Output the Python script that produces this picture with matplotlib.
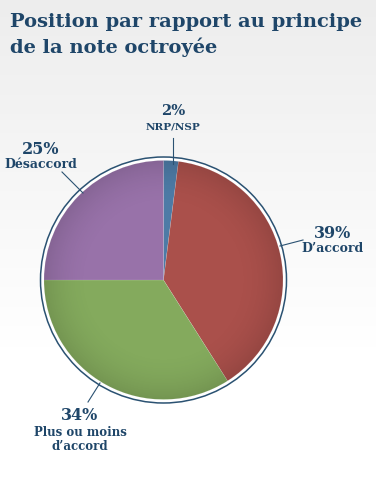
import numpy as np
import matplotlib
matplotlib.use('Agg')
import matplotlib.pyplot as plt
from matplotlib.patches import Circle

####################
# Data
categories = ['NRP/NSP', 'D\u2019accord', 'Plus ou moins\nd\u2019accord', 'D\u00e9saccord']
values     = [2, 39, 34, 25]
colors     = ['#4d7ba6', '#aa504b', '#84aa5d', '#9872a9']
title      = 'Position par rapport au principe\nde la note octroy\u00e9e'

####################
# Layout (pixel coords, y from top)
W, H = 376, 484
cx, cy, r = 163.5, 280, 119.5
navy = '#1f4669'
font = 'DejaVu Serif'

# label centre x, y of the percent, y of the name, percent size, name size
label_pos = [(173, 111, 127, 10.5, 7.5),
             (333, 234, 248, 11.5, 9),
             (80, 416, 439, 11.5, 8.5),
             (41, 149, 165, 11.5, 9)]
leaders = [((172.5, 138), (172.5, 164)),
           ((303, 240), (280, 246)),
           ((88, 402), (100, 383)),
           ((62, 172), (83, 193))]

fig = plt.figure(figsize=(W / 100, H / 100), dpi=100)
ax = fig.add_axes([0, 0, 1, 1])

# background gradient, light grey at the top
grad = np.clip(np.linspace(0, 1, 256) * 1.4, 0, 1).reshape(-1, 1)
bg = 0.93 + 0.07 * grad
ax.imshow(np.dstack([bg, bg, bg]), extent=(0, W, 0, H), aspect='auto', zorder=0,
          origin='upper')

# outer ring
ring = Circle((cx, H - cy), r + 3.5, facecolor='white', edgecolor='#2b5272',
              lw=1.1, zorder=1)
ax.add_patch(ring)

wedges, _ = ax.pie(values, colors=colors, startangle=90, counterclock=False,
                   center=(cx, H - cy), radius=r,
                   wedgeprops=dict(linewidth=0.3, edgecolor=(1, 1, 1, 0.25)))
for w in wedges:
    w.set_zorder(2)

# soft radial shading over the pie
yy, xx = np.mgrid[-1:1:300j, -1:1:300j]
rr = np.sqrt(xx ** 2 + yy ** 2)
shade = np.zeros((300, 300, 4))
shade[..., 3] = np.clip((rr - 0.6) / 0.4, 0, 1) ** 2 * 0.12
im = ax.imshow(shade, extent=(cx - r, cx + r, H - cy - r, H - cy + r), zorder=3)
im.set_clip_path(Circle((cx, H - cy), r, transform=ax.transData))

ax.set_xlim(0, W)
ax.set_ylim(0, H)
ax.set_aspect('auto')
ax.axis('off')

# title
lines = title.split('\n')
ax.text(10, H - 27, lines[0], fontsize=14, fontweight='bold',
        family=font, color=navy, va='baseline', ha='left')
ax.text(10, H - 53, lines[1], fontsize=14, fontweight='bold',
        family=font, color=navy, va='baseline', ha='left')

# labels
for cat, val, (lx, py, ny, ps, ns) in zip(categories, values, label_pos):
    ax.text(lx, H - py, f'{val}%', fontsize=ps, fontweight='bold', family=font,
            color=navy, ha='center', va='center')
    ax.text(lx, H - ny, cat, fontsize=ns, fontweight='bold', family=font,
            color=navy, ha='center', va='center', linespacing=1.1)

for (x0, y0), (x1, y1) in leaders:
    ax.plot([x0, x1], [H - y0, H - y1], color='#2b5272', lw=0.8, zorder=4)

fig.savefig('out.png', dpi=100)
